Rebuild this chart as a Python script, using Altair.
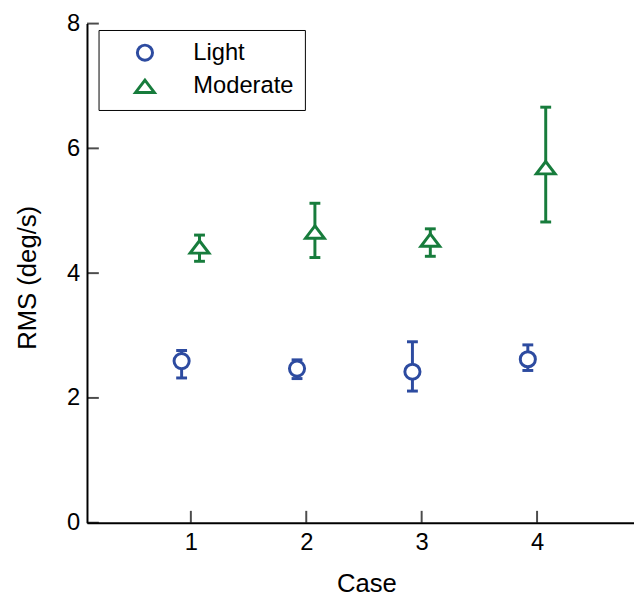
import altair as alt
import pandas as pd

# ---- data ----
cases = [1, 2, 3, 4]
series_names = ["Light", "Moderate"]
light_mean = [2.59, 2.47, 2.42, 2.62]
light_lo = [2.32, 2.31, 2.11, 2.44]
light_hi = [2.76, 2.61, 2.90, 2.85]
moderate_mean = [4.42, 4.66, 4.53, 5.69]
moderate_lo = [4.19, 4.25, 4.27, 4.82]
moderate_hi = [4.61, 5.12, 4.71, 6.66]
x_tick_values = [1, 2, 3, 4]
y_tick_values = [0, 2, 4, 6, 8]

BLUE = "#2D4BA0"
GREEN = "#177C3C"
FONT = "Liberation Sans"

rows = []
for name, means, los, his in [
    ("Light", light_mean, light_lo, light_hi),
    ("Moderate", moderate_mean, moderate_lo, moderate_hi),
]:
    for c, m, lo, hi in zip(cases, means, los, his):
        rows.append({"case": c, "series": name, "mean": m, "lo": lo, "hi": hi})
df = pd.DataFrame(rows)

W, H = 554, 505.5

x_scale = alt.Scale(domain=[0.1, 4.84], nice=False, zero=False)
y_scale = alt.Scale(domain=[0, 8], nice=False)
x_axis = alt.Axis(values=x_tick_values, title="Case", labelPadding=8, titlePadding=17, titleX=283)
y_axis = alt.Axis(values=y_tick_values, title="RMS (deg/s)", labelPadding=7.5, titlePadding=26, titleY=257)

color_scale = alt.Scale(domain=series_names, range=[BLUE, GREEN])
shape_scale = alt.Scale(domain=series_names, range=["circle", "M0,-0.66L-1,0.66L1,0.66Z"])
size_scale = alt.Scale(domain=series_names, range=[235, 361])

legend = alt.Legend(
    title=None,
    orient="none",
    legendX=11.7,
    legendY=6.5,
    strokeColor="black",
    padding=11,
    rowPadding=7,
    symbolOffset=24,
    labelOffset=37,
    labelFont=FONT,
    labelFontSize=24,
    labelColor="black",
    symbolStrokeWidth=3,
    symbolFillColor="white",
    symbolOpacity=1,
)


def X(field):
    return alt.X(field, type="quantitative", scale=x_scale, axis=x_axis)


def Y(field):
    return alt.Y(field, type="quantitative", scale=y_scale, axis=y_axis)


# error bars get their colour per series without a legend of their own
BAR_COLOR = alt.condition("datum.series == 'Light'", alt.value(BLUE), alt.value(GREEN))

base = alt.Chart(df).transform_calculate(
    xpos="datum.case + (datum.series == 'Light' ? -0.08 : 0.075)"
)

bars = base.mark_rule(strokeWidth=3).encode(
    x=X("xpos"), y=Y("lo"), y2="hi:Q", color=BAR_COLOR
)
cap_lo = base.mark_tick(orient="horizontal", size=11, thickness=3, opacity=1).encode(
    x=X("xpos"), y=Y("lo"), color=BAR_COLOR
)
cap_hi = base.mark_tick(orient="horizontal", size=11, thickness=3, opacity=1).encode(
    x=X("xpos"), y=Y("hi"), color=BAR_COLOR
)

points = base.mark_point(filled=False, fill="white", fillOpacity=1, strokeWidth=3, opacity=1).encode(
    x=X("xpos"),
    y=Y("mean"),
    color=alt.Color("series:N", scale=color_scale, legend=legend),
    shape=alt.Shape("series:N", scale=shape_scale, legend=legend),
    size=alt.Size("series:N", scale=size_scale, legend=legend),
)

xt = alt.Chart(pd.DataFrame({"v": x_tick_values})).mark_tick(
    orient="vertical", size=12, thickness=2, color="black"
).encode(x=X("v"), y=alt.value(H - 6))

yt = alt.Chart(pd.DataFrame({"v": y_tick_values})).mark_tick(
    orient="horizontal", size=12, thickness=2, color="black"
).encode(y=Y("v"), x=alt.value(6))

chart = alt.layer(bars, cap_lo, cap_hi, points, xt, yt).properties(
    width=W,
    height=H,
    padding={"left": 80, "top": 12, "right": 0, "bottom": 74},
    autosize=alt.AutoSizeParams(type="none"),
).configure_axis(
    domainColor="black",
    domainWidth=2,
    ticks=False,
    grid=False,
    labelFont=FONT,
    labelFontSize=24,
    labelColor="black",
    titleFont=FONT,
    titleFontSize=26,
    titleFontWeight="normal",
    titleColor="black",
).configure_view(stroke=None)

chart.save("out.html", embed_options={"renderer": "svg", "actions": False})
